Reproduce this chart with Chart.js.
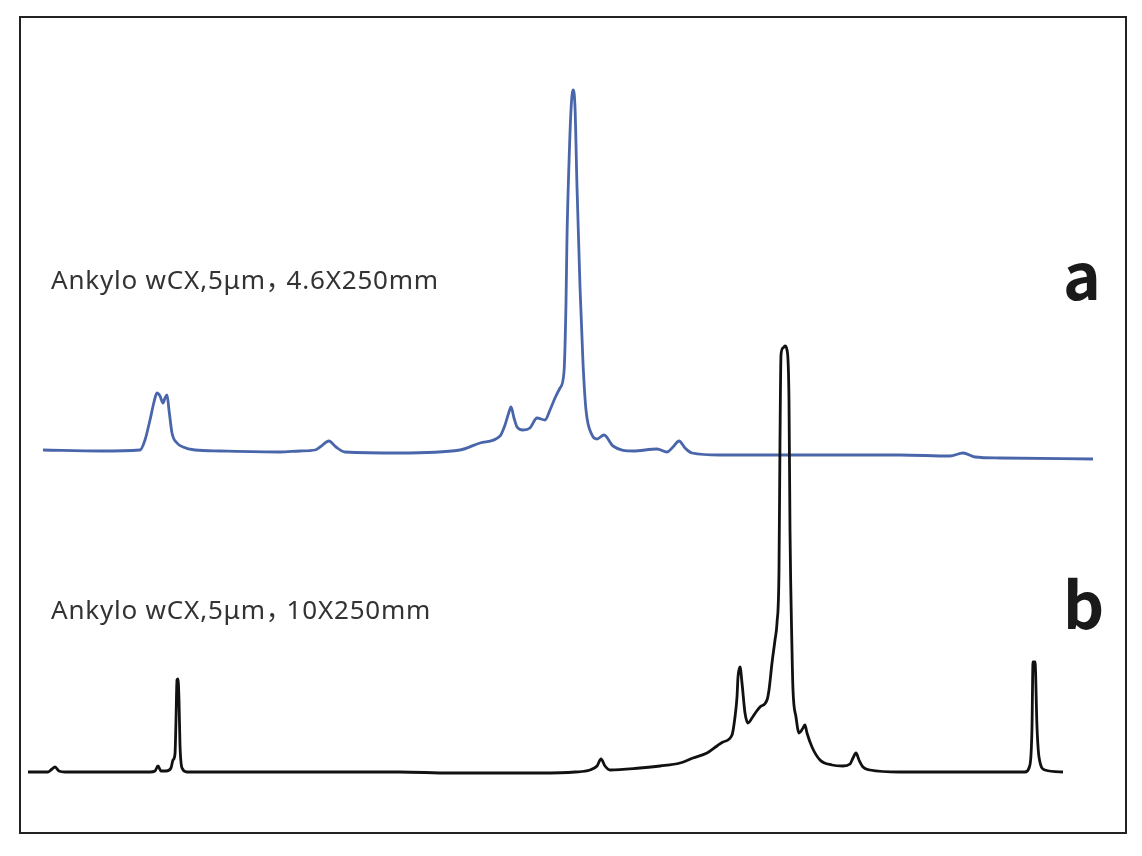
<!DOCTYPE html>
<html>
<head>
<meta charset="utf-8">
<script src="https://cdn.jsdelivr.net/npm/chart.js@4.4.1/dist/chart.umd.min.js"></script>
<style>
    body { margin: 0; background: #fff; }
    #wrap { position: relative; width: 1142px; height: 856px; }
    .label {
        position: absolute;
        line-height: 1;
        white-space: nowrap;
    }
    .cond {
        font-family: "Noto Sans", "Noto Sans CJK SC", sans-serif;
        font-size: 26px;
        letter-spacing: 0.8px;
        color: #333;
        left: 51px;
    }
    .cond .cm { font-family: "Noto Sans CJK SC", sans-serif; margin-right: -6px; }
    .tag {
        font-family: "Noto Sans CJK SC", "Noto Sans", sans-serif;
        font-size: 64px;
        font-weight: bold;
        color: #1a1a1a;
        left: 1063px;
    }
</style>
</head>
<body>
<div id="wrap">
    <canvas id="chromChart"></canvas>
    <div class="label cond" style="top: 265px;">Ankylo wCX,5μm<span class="cm">，</span>4.6X250mm</div>
    <div class="label tag" style="top: 240px;">a</div>
    <div class="label cond" style="top: 595px;">Ankylo wCX,5μm<span class="cm">，</span>10X250mm</div>
    <div class="label tag" style="top: 569px;">b</div>
</div>
<script>
// Chromatograms (time and signal in arbitrary units)
// a: Ankylo wCX 4.6X250mm (blue, stacked above)
const timeA = [23, 80, 120, 125, 130, 134, 137, 140, 143, 145, 147, 149, 152, 157, 163, 175, 200, 260, 280, 295,
    300, 309, 316, 325, 380, 440, 460, 480, 485, 489, 491, 494, 497, 503, 510, 517, 525, 530, 535, 540,
    544, 546, 547, 549, 551, 553, 555, 557, 560, 563, 566, 572, 577, 584, 593, 613, 637, 647, 653, 659,
    665, 672, 700, 880, 930, 943, 955, 980, 1073];
const signalA = [383, 382, 383, 393, 413, 431, 440, 437, 430, 435, 438, 423, 400, 390, 386, 383, 382, 381, 382, 383,
    386, 392, 386, 381, 380, 383, 390, 397, 408, 421, 426, 415, 406, 403, 405, 415, 413, 423, 435, 445,
    461, 530, 596, 670, 723, 743, 726, 646, 546, 470, 423, 398, 394, 398, 387, 382, 384, 381, 386, 392,
    385, 380, 378, 378, 377, 380, 376, 375, 374];

// b: Ankylo wCX 10X250mm (black)
const timeB = [8, 28, 32, 35, 39, 45, 130, 135, 138, 141, 146, 151, 153, 155, 156, 157, 158, 159, 160, 162,
    167, 380, 430, 520, 555, 570, 577, 581, 585, 590, 620, 640, 660, 673, 687, 697, 703, 712, 715, 717,
    718, 720, 722, 725, 728, 732, 736, 740, 747, 749, 752, 755, 757, 759, 760, 761, 763, 765, 767, 769,
    770, 772, 773, 776, 779, 783, 785, 787, 792, 800, 812, 823, 830, 833, 836, 839, 843, 850, 880, 1005,
    1009, 1011, 1012, 1013, 1015, 1017, 1019, 1025, 1043];
const signalB = [61, 61, 64, 66, 62, 61, 61, 62, 67, 62, 62, 65, 73, 79, 113, 153, 154, 133, 88, 65,
    61, 61, 60, 60, 61, 63, 67, 74, 67, 63, 65, 67, 70, 75, 80, 87, 91, 98, 116, 136,
    156, 166, 150, 120, 110, 115, 121, 126, 133, 143, 170, 193, 210, 263, 393, 478, 485, 487, 483, 433,
    303, 183, 143, 116, 100, 105, 108, 100, 86, 73, 68, 67, 69, 75, 80, 73, 66, 63, 61, 61,
    65, 78, 106, 171, 171, 106, 76, 63, 61];

function toPoints(xs, ys) {
    return xs.map((x, i) => ({ x: x, y: ys[i] }));
}

// Draw the box around the plot area
const framePlugin = {
    id: 'frame',
    beforeDatasetsDraw(chart) {
        const a = chart.chartArea;
        const ctx = chart.ctx;
        ctx.save();
        ctx.strokeStyle = '#222';
        ctx.lineWidth = 2;
        ctx.strokeRect(a.left, a.top, a.right - a.left, a.bottom - a.top);
        ctx.restore();
    }
};

const ctx = document.getElementById('chromChart');

new Chart(ctx, {
    type: 'line',
    data: {
        datasets: [{
            label: 'b',
            data: toPoints(timeB, signalB),
            borderColor: '#111111',
            borderWidth: 2.8,
            pointRadius: 0,
            cubicInterpolationMode: 'monotone',
            borderJoinStyle: 'round',
            fill: false
        }, {
            label: 'a',
            data: toPoints(timeA, signalA),
            borderColor: '#4a66aa',
            borderWidth: 2.8,
            pointRadius: 0,
            cubicInterpolationMode: 'monotone',
            borderJoinStyle: 'round',
            fill: false
        }]
    },
    options: {
        responsive: true,
        maintainAspectRatio: false,
        animation: false,
        layout: {
            padding: { left: 20, top: 17, right: 16, bottom: 23 }
        },
        plugins: {
            legend: { display: false },
            tooltip: { enabled: false }
        },
        scales: {
            x: { type: 'linear', min: 0, max: 1106, display: false },
            y: { type: 'linear', min: 0, max: 816, display: false }
        }
    },
    plugins: [framePlugin]
});
</script>
</body>
</html>
